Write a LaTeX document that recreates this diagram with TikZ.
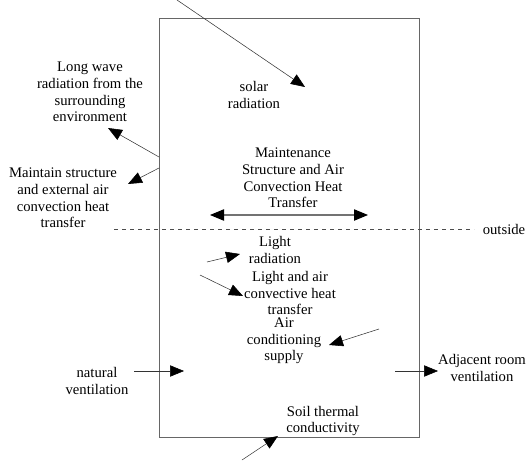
\documentclass[tikz,border=0pt]{standalone}
\usepackage{fontspec}
\setmainfont{Liberation Serif}
\usetikzlibrary{arrows.meta}
\begin{document}
\begin{tikzpicture}[x=0.75pt,y=-0.75pt,
  lbl/.style={align=center,inner sep=0pt,font=\fontsize{11}{12.5}\selectfont},
  arr/.style={-{Triangle[length=10.5pt,width=8.5pt,black]},line width=0.4pt,black!80},
  darr/.style={{Triangle[length=10.5pt,width=8.5pt,black]}-{Triangle[length=10.5pt,width=8.5pt,black]},line width=0.8pt,black!55}]
\useasboundingbox (0,0) rectangle (532,464);
% room box
\node[draw=black!60,line width=0.6pt,minimum width=260*0.75pt,minimum height=419*0.75pt,inner sep=0pt,anchor=north west] (room) at (159,18) {};
% outside dashed line
\coordinate (d1) at (114,229);
\coordinate (d2) at (474,229);
\draw[dashed,black!70,line width=0.5pt] (d1) -- (d2);
% labels
\node[lbl] (solar) at (254,95) {solar\\radiation};
\node[lbl] (longwave) at (90,92) {Long wave\\radiation from the\\surrounding\\environment};
\node[lbl] (maintain) at (63,198) {Maintain structure\\and external air\\convection heat\\transfer};
\node[lbl] (maint) at (293,178) {Maintenance\\Structure and Air\\Convection Heat\\Transfer};
\node[lbl] (outside) at (504,229) {outside};
\node[lbl] (lightrad) at (275,250) {Light\\radiation};
\node[lbl] (lightair) at (290,293) {Light and air\\convective heat\\transfer};
\node[lbl] (ac) at (284,341) {Air\\conditioning\\supply};
\node[lbl] (natural) at (97,381) {natural\\ventilation};
\node[lbl] (adjacent) at (482,368) {Adjacent room\\ventilation};
\node[lbl] (soil) at (323,421) {Soil thermal\\conductivity};
% arrow end points
\coordinate (s1) at (177,0);   \coordinate (s2) at (305,87);
\coordinate (lw1) at (159,157); \coordinate (lw2) at (108,128);
\coordinate (ms1) at (159,168); \coordinate (ms2) at (128,184);
\coordinate (h1) at (210,215); \coordinate (h2) at (368,215);
\coordinate (lr1) at (207,262); \coordinate (lr2) at (240,254);
\coordinate (la1) at (200,275); \coordinate (la2) at (243,296);
\coordinate (ac1) at (379,329); \coordinate (ac2) at (329,345);
\coordinate (nv1) at (134,371); \coordinate (nv2) at (184,371);
\coordinate (ar1) at (395,371); \coordinate (ar2) at (438,371);
\coordinate (so1) at (242,460); \coordinate (so2) at (278,436);
% arrows
\draw[arr] (s1) -- (s2);
\draw[arr] (lw1) -- (lw2);
\draw[arr] (ms1) -- (ms2);
\draw[darr] (h1) -- (h2);
\draw[arr] (lr1) -- (lr2);
\draw[arr] (la1) -- (la2);
\draw[arr] (ac1) -- (ac2);
\draw[arr] (nv1) -- (nv2);
\draw[arr] (ar1) -- (ar2);
\draw[arr] (so1) -- (so2);
\end{tikzpicture}
\end{document}
